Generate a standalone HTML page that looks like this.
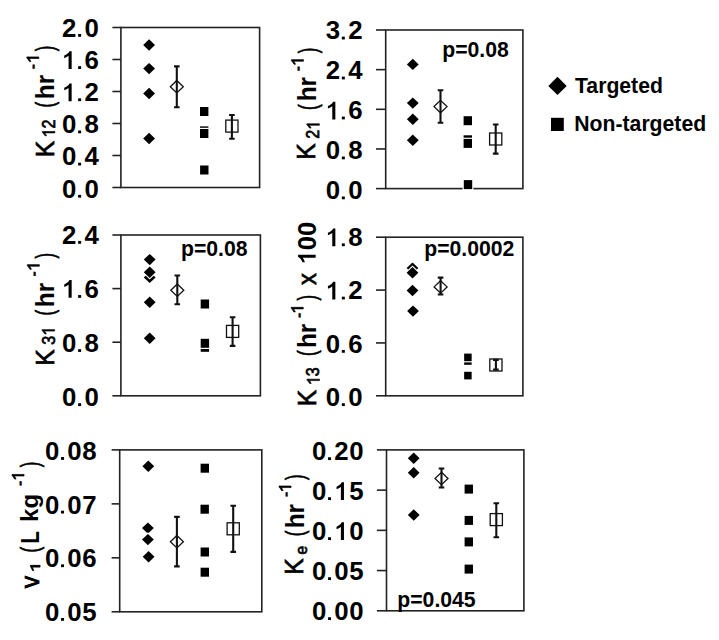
<!DOCTYPE html>
<html><head><meta charset="utf-8"><style>
html,body{margin:0;padding:0;background:#fff;}
svg{display:block;}
text{font-family:"Liberation Sans",sans-serif;fill:#000;}
.b{font-weight:bold;}
</style></head><body>
<svg width="719" height="640" viewBox="0 0 719 640">
<rect width="719" height="640" fill="#fff"/>
<rect x="120.9" y="27.5" width="138.7" height="160" fill="none" stroke="#222" stroke-width="1.6"/>
<line x1="112.4" y1="187.5" x2="120.9" y2="187.5" stroke="#222" stroke-width="1.6"/>
<text x="62.03" y="197.65" font-size="25.8" font-weight="bold">0</text><rect x="78.13" y="194.85" width="3" height="2.8"/><text x="84.45" y="197.65" font-size="25.8" font-weight="bold">0</text>
<line x1="112.4" y1="155.5" x2="120.9" y2="155.5" stroke="#222" stroke-width="1.6"/>
<text x="62.03" y="165.48" font-size="25.8" font-weight="bold">0</text><rect x="78.13" y="162.68" width="3" height="2.8"/><text x="84.45" y="165.48" font-size="25.8" font-weight="bold">4</text>
<line x1="112.4" y1="123.5" x2="120.9" y2="123.5" stroke="#222" stroke-width="1.6"/>
<text x="62.03" y="133.31" font-size="25.8" font-weight="bold">0</text><rect x="78.13" y="130.51" width="3" height="2.8"/><text x="84.45" y="133.31" font-size="25.8" font-weight="bold">8</text>
<line x1="112.4" y1="91.5" x2="120.9" y2="91.5" stroke="#222" stroke-width="1.6"/>
<path transform="translate(62.03,101.14) scale(0.01260,-0.01260)" d="M764 0H519V1040C424 960 314 905 174 860V1060C364 1130 514 1250 584 1409H764Z"/><rect x="78.13" y="98.34" width="3" height="2.8"/><text x="84.45" y="101.14" font-size="25.8" font-weight="bold">2</text>
<line x1="112.4" y1="59.5" x2="120.9" y2="59.5" stroke="#222" stroke-width="1.6"/>
<path transform="translate(62.03,68.97) scale(0.01260,-0.01260)" d="M764 0H519V1040C424 960 314 905 174 860V1060C364 1130 514 1250 584 1409H764Z"/><rect x="78.13" y="66.17" width="3" height="2.8"/><text x="84.45" y="68.97" font-size="25.8" font-weight="bold">6</text>
<line x1="112.4" y1="27.5" x2="120.9" y2="27.5" stroke="#222" stroke-width="1.6"/>
<text x="62.03" y="36.8" font-size="25.8" font-weight="bold">2</text><rect x="78.13" y="34" width="3" height="2.8"/><text x="84.45" y="36.8" font-size="25.8" font-weight="bold">0</text>
<rect x="385.7" y="30" width="137.2" height="158.6" fill="none" stroke="#222" stroke-width="1.6"/>
<line x1="376" y1="188.6" x2="385.7" y2="188.6" stroke="#222" stroke-width="1.6"/>
<text x="325.73" y="199.3" font-size="25.8" font-weight="bold">0</text><rect x="341.83" y="196.5" width="3" height="2.8"/><text x="348.15" y="199.3" font-size="25.8" font-weight="bold">0</text>
<line x1="376" y1="148.95" x2="385.7" y2="148.95" stroke="#222" stroke-width="1.6"/>
<text x="325.73" y="159.34" font-size="25.8" font-weight="bold">0</text><rect x="341.83" y="156.54" width="3" height="2.8"/><text x="348.15" y="159.34" font-size="25.8" font-weight="bold">8</text>
<line x1="376" y1="109.3" x2="385.7" y2="109.3" stroke="#222" stroke-width="1.6"/>
<path transform="translate(325.73,119.38) scale(0.01260,-0.01260)" d="M764 0H519V1040C424 960 314 905 174 860V1060C364 1130 514 1250 584 1409H764Z"/><rect x="341.83" y="116.58" width="3" height="2.8"/><text x="348.15" y="119.38" font-size="25.8" font-weight="bold">6</text>
<line x1="376" y1="69.65" x2="385.7" y2="69.65" stroke="#222" stroke-width="1.6"/>
<text x="325.73" y="79.41" font-size="25.8" font-weight="bold">2</text><rect x="341.83" y="76.61" width="3" height="2.8"/><text x="348.15" y="79.41" font-size="25.8" font-weight="bold">4</text>
<line x1="376" y1="30" x2="385.7" y2="30" stroke="#222" stroke-width="1.6"/>
<text x="325.73" y="39.45" font-size="25.8" font-weight="bold">3</text><rect x="341.83" y="36.65" width="3" height="2.8"/><text x="348.15" y="39.45" font-size="25.8" font-weight="bold">2</text>
<rect x="120.9" y="235" width="139.5" height="160.8" fill="none" stroke="#222" stroke-width="1.6"/>
<line x1="112.4" y1="395.8" x2="120.9" y2="395.8" stroke="#222" stroke-width="1.6"/>
<text x="62.03" y="406.05" font-size="25.8" font-weight="bold">0</text><rect x="78.13" y="403.25" width="3" height="2.8"/><text x="84.45" y="406.05" font-size="25.8" font-weight="bold">0</text>
<line x1="112.4" y1="342.2" x2="120.9" y2="342.2" stroke="#222" stroke-width="1.6"/>
<text x="62.03" y="351.95" font-size="25.8" font-weight="bold">0</text><rect x="78.13" y="349.15" width="3" height="2.8"/><text x="84.45" y="351.95" font-size="25.8" font-weight="bold">8</text>
<line x1="112.4" y1="288.6" x2="120.9" y2="288.6" stroke="#222" stroke-width="1.6"/>
<path transform="translate(62.03,297.85) scale(0.01260,-0.01260)" d="M764 0H519V1040C424 960 314 905 174 860V1060C364 1130 514 1250 584 1409H764Z"/><rect x="78.13" y="295.05" width="3" height="2.8"/><text x="84.45" y="297.85" font-size="25.8" font-weight="bold">6</text>
<line x1="112.4" y1="235" x2="120.9" y2="235" stroke="#222" stroke-width="1.6"/>
<text x="62.03" y="243.75" font-size="25.8" font-weight="bold">2</text><rect x="78.13" y="240.95" width="3" height="2.8"/><text x="84.45" y="243.75" font-size="25.8" font-weight="bold">4</text>
<rect x="385.7" y="237.2" width="137.2" height="158.6" fill="none" stroke="#222" stroke-width="1.6"/>
<line x1="376" y1="395.8" x2="385.7" y2="395.8" stroke="#222" stroke-width="1.6"/>
<text x="325.73" y="406.05" font-size="25.8" font-weight="bold">0</text><rect x="341.83" y="403.25" width="3" height="2.8"/><text x="348.15" y="406.05" font-size="25.8" font-weight="bold">0</text>
<line x1="376" y1="342.93" x2="385.7" y2="342.93" stroke="#222" stroke-width="1.6"/>
<text x="325.73" y="352.77" font-size="25.8" font-weight="bold">0</text><rect x="341.83" y="349.97" width="3" height="2.8"/><text x="348.15" y="352.77" font-size="25.8" font-weight="bold">6</text>
<line x1="376" y1="290.07" x2="385.7" y2="290.07" stroke="#222" stroke-width="1.6"/>
<path transform="translate(325.73,299.48) scale(0.01260,-0.01260)" d="M764 0H519V1040C424 960 314 905 174 860V1060C364 1130 514 1250 584 1409H764Z"/><rect x="341.83" y="296.68" width="3" height="2.8"/><text x="348.15" y="299.48" font-size="25.8" font-weight="bold">2</text>
<line x1="376" y1="237.2" x2="385.7" y2="237.2" stroke="#222" stroke-width="1.6"/>
<path transform="translate(325.73,246.2) scale(0.01260,-0.01260)" d="M764 0H519V1040C424 960 314 905 174 860V1060C364 1130 514 1250 584 1409H764Z"/><rect x="341.83" y="243.4" width="3" height="2.8"/><text x="348.15" y="246.2" font-size="25.8" font-weight="bold">8</text>
<rect x="119.7" y="449.9" width="142.1" height="161.9" fill="none" stroke="#222" stroke-width="1.6"/>
<line x1="111.6" y1="611.8" x2="119.7" y2="611.8" stroke="#222" stroke-width="1.6"/>
<text x="44.94" y="620.8" font-size="25.8" font-weight="bold">0</text><rect x="61.03" y="618" width="3" height="2.8"/><text x="67.35" y="620.8" font-size="25.8" font-weight="bold">0</text><text x="82.15" y="620.8" font-size="25.8" font-weight="bold">5</text>
<line x1="111.6" y1="557.83" x2="119.7" y2="557.83" stroke="#222" stroke-width="1.6"/>
<text x="44.94" y="567.15" font-size="25.8" font-weight="bold">0</text><rect x="61.03" y="564.35" width="3" height="2.8"/><text x="67.35" y="567.15" font-size="25.8" font-weight="bold">0</text><text x="82.15" y="567.15" font-size="25.8" font-weight="bold">6</text>
<line x1="111.6" y1="503.87" x2="119.7" y2="503.87" stroke="#222" stroke-width="1.6"/>
<text x="44.94" y="513.5" font-size="25.8" font-weight="bold">0</text><rect x="61.03" y="510.7" width="3" height="2.8"/><text x="67.35" y="513.5" font-size="25.8" font-weight="bold">0</text><text x="82.15" y="513.5" font-size="25.8" font-weight="bold">7</text>
<line x1="111.6" y1="449.9" x2="119.7" y2="449.9" stroke="#222" stroke-width="1.6"/>
<text x="44.94" y="459.85" font-size="25.8" font-weight="bold">0</text><rect x="61.03" y="457.05" width="3" height="2.8"/><text x="67.35" y="459.85" font-size="25.8" font-weight="bold">0</text><text x="82.15" y="459.85" font-size="25.8" font-weight="bold">8</text>
<rect x="386.5" y="449.9" width="137.4" height="160.9" fill="none" stroke="#222" stroke-width="1.6"/>
<line x1="376.9" y1="610.8" x2="386.5" y2="610.8" stroke="#222" stroke-width="1.6"/>
<text x="311.94" y="620.05" font-size="25.8" font-weight="bold">0</text><rect x="328.03" y="617.25" width="3" height="2.8"/><text x="334.35" y="620.05" font-size="25.8" font-weight="bold">0</text><text x="349.15" y="620.05" font-size="25.8" font-weight="bold">0</text>
<line x1="376.9" y1="570.57" x2="386.5" y2="570.57" stroke="#222" stroke-width="1.6"/>
<text x="311.94" y="580.05" font-size="25.8" font-weight="bold">0</text><rect x="328.03" y="577.25" width="3" height="2.8"/><text x="334.35" y="580.05" font-size="25.8" font-weight="bold">0</text><text x="349.15" y="580.05" font-size="25.8" font-weight="bold">5</text>
<line x1="376.9" y1="530.35" x2="386.5" y2="530.35" stroke="#222" stroke-width="1.6"/>
<text x="311.94" y="540.05" font-size="25.8" font-weight="bold">0</text><rect x="328.03" y="537.25" width="3" height="2.8"/><path transform="translate(334.35,540.05) scale(0.01260,-0.01260)" d="M764 0H519V1040C424 960 314 905 174 860V1060C364 1130 514 1250 584 1409H764Z"/><text x="349.15" y="540.05" font-size="25.8" font-weight="bold">0</text>
<line x1="376.9" y1="490.12" x2="386.5" y2="490.12" stroke="#222" stroke-width="1.6"/>
<text x="311.94" y="500.05" font-size="25.8" font-weight="bold">0</text><rect x="328.03" y="497.25" width="3" height="2.8"/><path transform="translate(334.35,500.05) scale(0.01260,-0.01260)" d="M764 0H519V1040C424 960 314 905 174 860V1060C364 1130 514 1250 584 1409H764Z"/><text x="349.15" y="500.05" font-size="25.8" font-weight="bold">5</text>
<line x1="376.9" y1="449.9" x2="386.5" y2="449.9" stroke="#222" stroke-width="1.6"/>
<text x="311.94" y="460.05" font-size="25.8" font-weight="bold">0</text><rect x="328.03" y="457.25" width="3" height="2.8"/><text x="334.35" y="460.05" font-size="25.8" font-weight="bold">2</text><text x="349.15" y="460.05" font-size="25.8" font-weight="bold">0</text>
<path d="M149.1 39.3L155 45L149.1 50.7L143.2 45Z" fill="#000" stroke="#fff" stroke-width="2.4" paint-order="stroke"/>
<path d="M149.1 62.9L155 68.6L149.1 74.3L143.2 68.6Z" fill="#000" stroke="#fff" stroke-width="2.4" paint-order="stroke"/>
<path d="M149.1 87.8L155 93.5L149.1 99.2L143.2 93.5Z" fill="#000" stroke="#fff" stroke-width="2.4" paint-order="stroke"/>
<path d="M149.1 132.8L155 138.5L149.1 144.2L143.2 138.5Z" fill="#000" stroke="#fff" stroke-width="2.4" paint-order="stroke"/>
<rect x="200" y="107" width="8.4" height="9" fill="#000" stroke="#fff" stroke-width="2.4" paint-order="stroke"/>
<rect x="200" y="126.4" width="8.4" height="9" fill="#000" stroke="#fff" stroke-width="2.4" paint-order="stroke"/>
<rect x="200" y="129" width="8.4" height="9" fill="#000" stroke="#fff" stroke-width="2.4" paint-order="stroke"/>
<rect x="200.1" y="165.5" width="8.4" height="9" fill="#000" stroke="#fff" stroke-width="2.4" paint-order="stroke"/>
<path d="M176.8 80.5L183.3 86.7L176.8 92.9L170.3 86.7Z" fill="#fff" stroke="#111" stroke-width="1.3"/>
<path d="M176.8 66.4V107.2M174 66.4H179.6M174 107.2H179.6" stroke="#111" stroke-width="2.1" fill="none"/>
<rect x="225.8" y="120.1" width="12.2" height="12" fill="#fff" stroke="#111" stroke-width="1.3"/>
<path d="M231.9 115V138.8M229.1 115H234.7M229.1 138.8H234.7" stroke="#111" stroke-width="2.1" fill="none"/>
<path d="M412.8 58.7L418.7 64.4L412.8 70.1L406.9 64.4Z" fill="#000" stroke="#fff" stroke-width="2.4" paint-order="stroke"/>
<path d="M412.8 97.4L418.7 103.1L412.8 108.8L406.9 103.1Z" fill="#000" stroke="#fff" stroke-width="2.4" paint-order="stroke"/>
<path d="M412.8 113.5L418.7 119.2L412.8 124.9L406.9 119.2Z" fill="#000" stroke="#fff" stroke-width="2.4" paint-order="stroke"/>
<path d="M412.8 134.6L418.7 140.3L412.8 146L406.9 140.3Z" fill="#000" stroke="#fff" stroke-width="2.4" paint-order="stroke"/>
<rect x="463.6" y="116.2" width="8.4" height="9" fill="#000" stroke="#fff" stroke-width="2.4" paint-order="stroke"/>
<rect x="463.6" y="135.3" width="8.4" height="9" fill="#000" stroke="#fff" stroke-width="2.4" paint-order="stroke"/>
<rect x="463.6" y="138.9" width="8.4" height="9" fill="#000" stroke="#fff" stroke-width="2.4" paint-order="stroke"/>
<rect x="463.8" y="180.1" width="8.4" height="9" fill="#000" stroke="#fff" stroke-width="2.4" paint-order="stroke"/>
<path d="M440.5 100.4L447 106.6L440.5 112.8L434 106.6Z" fill="#fff" stroke="#111" stroke-width="1.3"/>
<path d="M440.5 90.2V122.7M437.7 90.2H443.3M437.7 122.7H443.3" stroke="#111" stroke-width="2.1" fill="none"/>
<rect x="489.6" y="133" width="12.2" height="12" fill="#fff" stroke="#111" stroke-width="1.3"/>
<path d="M495.7 124.5V153.6M492.9 124.5H498.5M492.9 153.6H498.5" stroke="#111" stroke-width="2.1" fill="none"/>
<path d="M149.7 253.9L155.6 259.6L149.7 265.3L143.8 259.6Z" fill="#000" stroke="#fff" stroke-width="2.4" paint-order="stroke"/>
<path d="M149.7 271.7L155.6 277.4L149.7 283.1L143.8 277.4Z" fill="#000" stroke="#fff" stroke-width="2.4" paint-order="stroke"/>
<path d="M149.7 266.5L155.6 272.2L149.7 277.9L143.8 272.2Z" fill="#000" stroke="#fff" stroke-width="2.4" paint-order="stroke"/>
<path d="M149.7 296.6L155.6 302.3L149.7 308L143.8 302.3Z" fill="#000" stroke="#fff" stroke-width="2.4" paint-order="stroke"/>
<path d="M149.7 332.6L155.6 338.3L149.7 344L143.8 338.3Z" fill="#000" stroke="#fff" stroke-width="2.4" paint-order="stroke"/>
<rect x="200.7" y="299.5" width="8.4" height="9" fill="#000" stroke="#fff" stroke-width="2.4" paint-order="stroke"/>
<rect x="200.7" y="342.8" width="8.4" height="9" fill="#000" stroke="#fff" stroke-width="2.4" paint-order="stroke"/>
<rect x="200.7" y="338.8" width="8.4" height="9" fill="#000" stroke="#fff" stroke-width="2.4" paint-order="stroke"/>
<path d="M177.3 284L183.8 290.2L177.3 296.4L170.8 290.2Z" fill="#fff" stroke="#111" stroke-width="1.3"/>
<path d="M177.3 275.5V304.2M174.5 275.5H180.1M174.5 304.2H180.1" stroke="#111" stroke-width="2.1" fill="none"/>
<rect x="226.5" y="325.4" width="12.2" height="12" fill="#fff" stroke="#111" stroke-width="1.3"/>
<path d="M232.6 317.25V345.9M229.8 317.25H235.4M229.8 345.9H235.4" stroke="#111" stroke-width="2.1" fill="none"/>
<path d="M412.5 262.4L418.4 268.1L412.5 273.8L406.6 268.1Z" fill="#000" stroke="#fff" stroke-width="2.4" paint-order="stroke"/>
<path d="M412.5 267.1L418.4 272.8L412.5 278.5L406.6 272.8Z" fill="#000" stroke="#fff" stroke-width="2.4" paint-order="stroke"/>
<path d="M412.5 284.8L418.4 290.5L412.5 296.2L406.6 290.5Z" fill="#000" stroke="#fff" stroke-width="2.4" paint-order="stroke"/>
<path d="M413 305.4L418.9 311.1L413 316.8L407.1 311.1Z" fill="#000" stroke="#fff" stroke-width="2.4" paint-order="stroke"/>
<rect x="464.15" y="357.2" width="7.5" height="7.6" fill="#000" stroke="#fff" stroke-width="2.4" paint-order="stroke"/>
<rect x="464.15" y="353.6" width="7.5" height="7.6" fill="#000" stroke="#fff" stroke-width="2.4" paint-order="stroke"/>
<rect x="464.15" y="371.8" width="7.5" height="7.6" fill="#000" stroke="#fff" stroke-width="2.4" paint-order="stroke"/>
<path d="M440.6 280.7L447.1 286.9L440.6 293.1L434.1 286.9Z" fill="#fff" stroke="#111" stroke-width="1.3"/>
<path d="M440.6 277.6V294.5M437.8 277.6H443.4M437.8 294.5H443.4" stroke="#111" stroke-width="2.1" fill="none"/>
<rect x="489.8" y="359" width="12.2" height="12" fill="#fff" stroke="#111" stroke-width="1.3"/>
<path d="M495.9 359.9V369.6M493.1 359.9H498.7M493.1 369.6H498.7" stroke="#111" stroke-width="2.1" fill="none"/>
<path d="M148.3 460.5L154.2 466.2L148.3 471.9L142.4 466.2Z" fill="#000" stroke="#fff" stroke-width="2.4" paint-order="stroke"/>
<path d="M147.9 522.4L153.8 528.1L147.9 533.8L142 528.1Z" fill="#000" stroke="#fff" stroke-width="2.4" paint-order="stroke"/>
<path d="M147.9 533.9L153.8 539.6L147.9 545.3L142 539.6Z" fill="#000" stroke="#fff" stroke-width="2.4" paint-order="stroke"/>
<path d="M148.6 551L154.5 556.7L148.6 562.4L142.7 556.7Z" fill="#000" stroke="#fff" stroke-width="2.4" paint-order="stroke"/>
<rect x="200.6" y="463.7" width="8.4" height="9" fill="#000" stroke="#fff" stroke-width="2.4" paint-order="stroke"/>
<rect x="200.5" y="504.7" width="8.4" height="9" fill="#000" stroke="#fff" stroke-width="2.4" paint-order="stroke"/>
<rect x="200.6" y="547.5" width="8.4" height="9" fill="#000" stroke="#fff" stroke-width="2.4" paint-order="stroke"/>
<rect x="200.6" y="567.7" width="8.4" height="9" fill="#000" stroke="#fff" stroke-width="2.4" paint-order="stroke"/>
<path d="M176.9 535.5L183.4 541.7L176.9 547.9L170.4 541.7Z" fill="#fff" stroke="#111" stroke-width="1.3"/>
<path d="M176.9 516.9V566.4M174.1 516.9H179.7M174.1 566.4H179.7" stroke="#111" stroke-width="2.1" fill="none"/>
<rect x="227.1" y="522.8" width="12.2" height="12" fill="#fff" stroke="#111" stroke-width="1.3"/>
<path d="M233.2 505.7V551.9M230.4 505.7H236M230.4 551.9H236" stroke="#111" stroke-width="2.1" fill="none"/>
<path d="M413.7 452.6L419.6 458.3L413.7 464L407.8 458.3Z" fill="#000" stroke="#fff" stroke-width="2.4" paint-order="stroke"/>
<path d="M413.7 467L419.6 472.7L413.7 478.4L407.8 472.7Z" fill="#000" stroke="#fff" stroke-width="2.4" paint-order="stroke"/>
<path d="M413.75 509.3L419.65 515L413.75 520.7L407.85 515Z" fill="#000" stroke="#fff" stroke-width="2.4" paint-order="stroke"/>
<rect x="464.6" y="484.6" width="8.4" height="9" fill="#000" stroke="#fff" stroke-width="2.4" paint-order="stroke"/>
<rect x="464.6" y="515.9" width="8.4" height="9" fill="#000" stroke="#fff" stroke-width="2.4" paint-order="stroke"/>
<rect x="464.6" y="537.4" width="8.4" height="9" fill="#000" stroke="#fff" stroke-width="2.4" paint-order="stroke"/>
<rect x="464.6" y="564.6" width="8.4" height="9" fill="#000" stroke="#fff" stroke-width="2.4" paint-order="stroke"/>
<path d="M441.5 472.3L448 478.5L441.5 484.7L435 478.5Z" fill="#fff" stroke="#111" stroke-width="1.3"/>
<path d="M441.5 468.5V487.5M438.7 468.5H444.3M438.7 487.5H444.3" stroke="#111" stroke-width="2.1" fill="none"/>
<rect x="490.2" y="513.6" width="12.2" height="12" fill="#fff" stroke="#111" stroke-width="1.3"/>
<path d="M496.3 503.2V537.3M493.5 503.2H499.1M493.5 537.3H499.1" stroke="#111" stroke-width="2.1" fill="none"/>
<text x="442.2" y="57" font-size="21.2" font-weight="bold">p=0.08</text>
<text x="181" y="255.7" font-size="21.2" font-weight="bold">p=0.08</text>
<text x="424.2" y="255.5" font-size="21.2" font-weight="bold">p=0.0002</text>
<text x="397.3" y="606.5" font-size="21.2" font-weight="bold">p=0.045</text>
<path d="M557.5 76.75L566.7 85.9L557.5 95.05L548.3 85.9Z" fill="#000"/>
<rect x="551" y="117.8" width="12.8" height="13.2" fill="#000"/>
<text x="575" y="93.4" font-size="21.2" font-weight="bold">Targeted</text>
<text x="574.3" y="131.3" font-size="21.2" font-weight="bold">Non-targeted</text>
<g transform="translate(53.65,157.32) rotate(-90) scale(0.930,1)"><text x="0" y="0" font-size="26.5" font-weight="normal" stroke="#000" stroke-width="0.7">K</text></g>
<g transform="translate(54.85,137.51) rotate(-90) scale(0.890,1)"><path transform="translate(0,0) scale(0.00889,-0.00889)" d="M763 0H583V1147C520 1087 420 1022 223 930V1104C400 1190 560 1320 644 1409H763Z" stroke="#000" stroke-width="78.77"/><text x="10.12" y="0" font-size="18.2" font-weight="normal" stroke="#000" stroke-width="0.7">2</text></g>
<g transform="translate(53.67,107.50) rotate(-90) scale(0.650,1)"><text x="0" y="0" font-size="26" font-weight="normal" stroke="#000" stroke-width="0.7">(</text></g>
<g transform="translate(53.75,99.15) rotate(-90) scale(0.967,1)"><text x="0" y="0" font-size="25.2" font-weight="bold">hr</text></g>
<g transform="translate(38.98,69.32) rotate(-90) scale(0.850,1)"><text x="0" y="0" font-size="17.8" font-weight="normal" stroke="#000" stroke-width="0.7">-</text></g>
<g transform="translate(38.85,63.46) rotate(-90) scale(1.000,1)"><path transform="translate(0,0) scale(0.00854,-0.00854)" d="M763 0H583V1147C520 1087 420 1022 223 930V1104C400 1190 560 1320 644 1409H763Z" stroke="#000" stroke-width="81.92"/></g>
<g transform="translate(54.27,51.25) rotate(-90) scale(0.650,1)"><text x="0" y="0" font-size="26" font-weight="normal" stroke="#000" stroke-width="0.7">)</text></g>
<g transform="translate(315.45,159.67) rotate(-90) scale(0.930,1)"><text x="0" y="0" font-size="26.5" font-weight="normal" stroke="#000" stroke-width="0.7">K</text></g>
<g transform="translate(319.35,138.86) rotate(-90) scale(0.890,1)"><text x="0" y="0" font-size="18.2" font-weight="normal" stroke="#000" stroke-width="0.7">2</text><path transform="translate(10.12,0) scale(0.00889,-0.00889)" d="M763 0H583V1147C520 1087 420 1022 223 930V1104C400 1190 560 1320 644 1409H763Z" stroke="#000" stroke-width="78.77"/></g>
<g transform="translate(316.77,109.90) rotate(-90) scale(0.650,1)"><text x="0" y="0" font-size="26" font-weight="normal" stroke="#000" stroke-width="0.7">(</text></g>
<g transform="translate(315.75,101.35) rotate(-90) scale(0.967,1)"><text x="0" y="0" font-size="25.2" font-weight="bold">hr</text></g>
<g transform="translate(304.48,71.32) rotate(-90) scale(0.850,1)"><text x="0" y="0" font-size="17.8" font-weight="normal" stroke="#000" stroke-width="0.7">-</text></g>
<g transform="translate(303.45,66.16) rotate(-90) scale(1.000,1)"><path transform="translate(0,0) scale(0.00854,-0.00854)" d="M763 0H583V1147C520 1087 420 1022 223 930V1104C400 1190 560 1320 644 1409H763Z" stroke="#000" stroke-width="81.92"/></g>
<g transform="translate(316.77,53.25) rotate(-90) scale(0.650,1)"><text x="0" y="0" font-size="26" font-weight="normal" stroke="#000" stroke-width="0.7">)</text></g>
<g transform="translate(53.65,365.77) rotate(-90) scale(0.930,1)"><text x="0" y="0" font-size="26.5" font-weight="normal" stroke="#000" stroke-width="0.7">K</text></g>
<g transform="translate(54.57,344.67) rotate(-90) scale(0.890,1)"><text x="0" y="0" font-size="18.2" font-weight="normal" stroke="#000" stroke-width="0.7">3</text><path transform="translate(10.12,0) scale(0.00889,-0.00889)" d="M763 0H583V1147C520 1087 420 1022 223 930V1104C400 1190 560 1320 644 1409H763Z" stroke="#000" stroke-width="78.77"/></g>
<g transform="translate(53.77,315.50) rotate(-90) scale(0.650,1)"><text x="0" y="0" font-size="26" font-weight="normal" stroke="#000" stroke-width="0.7">(</text></g>
<g transform="translate(53.75,307.15) rotate(-90) scale(0.967,1)"><text x="0" y="0" font-size="25.2" font-weight="bold">hr</text></g>
<g transform="translate(39.58,276.52) rotate(-90) scale(0.850,1)"><text x="0" y="0" font-size="17.8" font-weight="normal" stroke="#000" stroke-width="0.7">-</text></g>
<g transform="translate(39.35,271.16) rotate(-90) scale(1.000,1)"><path transform="translate(0,0) scale(0.00854,-0.00854)" d="M763 0H583V1147C520 1087 420 1022 223 930V1104C400 1190 560 1320 644 1409H763Z" stroke="#000" stroke-width="81.92"/></g>
<g transform="translate(54.27,258.45) rotate(-90) scale(0.650,1)"><text x="0" y="0" font-size="26" font-weight="normal" stroke="#000" stroke-width="0.7">)</text></g>
<g transform="translate(315.85,406.27) rotate(-90) scale(0.930,1)"><text x="0" y="0" font-size="26.5" font-weight="normal" stroke="#000" stroke-width="0.7">K</text></g>
<g transform="translate(319.47,385.21) rotate(-90) scale(0.890,1)"><path transform="translate(0,0) scale(0.00889,-0.00889)" d="M763 0H583V1147C520 1087 420 1022 223 930V1104C400 1190 560 1320 644 1409H763Z" stroke="#000" stroke-width="78.77"/><text x="10.12" y="0" font-size="18.2" font-weight="normal" stroke="#000" stroke-width="0.7">3</text></g>
<g transform="translate(315.97,356.00) rotate(-90) scale(0.650,1)"><text x="0" y="0" font-size="26" font-weight="normal" stroke="#000" stroke-width="0.7">(</text></g>
<g transform="translate(315.75,348.10) rotate(-90) scale(0.967,1)"><text x="0" y="0" font-size="25.2" font-weight="bold">hr</text></g>
<g transform="translate(304.58,318.12) rotate(-90) scale(0.850,1)"><text x="0" y="0" font-size="17.8" font-weight="normal" stroke="#000" stroke-width="0.7">-</text></g>
<g transform="translate(303.25,313.86) rotate(-90) scale(1.000,1)"><path transform="translate(0,0) scale(0.00854,-0.00854)" d="M763 0H583V1147C520 1087 420 1022 223 930V1104C400 1190 560 1320 644 1409H763Z" stroke="#000" stroke-width="81.92"/></g>
<g transform="translate(315.97,300.55) rotate(-90) scale(0.650,1)"><text x="0" y="0" font-size="26" font-weight="normal" stroke="#000" stroke-width="0.7">)</text></g>
<g transform="translate(315.90,284.92) rotate(-90) scale(0.915,1)"><text x="0" y="0" font-size="25.8" font-weight="normal" stroke="#000" stroke-width="0.7">x</text></g>
<g transform="translate(315.65,264.32) rotate(-90) scale(1.000,1)"><path transform="translate(0,0) scale(0.01245,-0.01245)" d="M764 0H519V1040C424 960 314 905 174 860V1060C364 1130 514 1250 584 1409H764Z"/><text x="14.18" y="0" font-size="25.5" font-weight="bold">00</text></g>
<g transform="translate(38.95,588.14) rotate(-90) scale(0.960,1)"><text x="0" y="0" font-size="26" font-weight="normal" stroke="#000" stroke-width="0.7">v</text></g>
<g transform="translate(40.05,572.68) rotate(-90) scale(1.400,1)"><path transform="translate(0,0) scale(0.00684,-0.00684)" d="M763 0H583V1147C520 1087 420 1022 223 930V1104C400 1190 560 1320 644 1409H763Z" stroke="#000" stroke-width="102.4"/></g>
<g transform="translate(38.77,552.50) rotate(-90) scale(0.650,1)"><text x="0" y="0" font-size="26" font-weight="normal" stroke="#000" stroke-width="0.7">(</text></g>
<g transform="translate(38.95,543.51) rotate(-90) scale(0.800,1)"><text x="0" y="0" font-size="25.5" font-weight="bold">L</text></g>
<g transform="translate(38.31,521.93) rotate(-90) scale(1.000,1)"><text x="0" y="0" font-size="24" font-weight="bold">kg</text></g>
<g transform="translate(25.58,485.92) rotate(-90) scale(0.850,1)"><text x="0" y="0" font-size="17.8" font-weight="normal" stroke="#000" stroke-width="0.7">-</text></g>
<g transform="translate(24.05,480.96) rotate(-90) scale(1.000,1)"><path transform="translate(0,0) scale(0.00854,-0.00854)" d="M763 0H583V1147C520 1087 420 1022 223 930V1104C400 1190 560 1320 644 1409H763Z" stroke="#000" stroke-width="81.92"/></g>
<g transform="translate(39.27,467.25) rotate(-90) scale(0.650,1)"><text x="0" y="0" font-size="26" font-weight="normal" stroke="#000" stroke-width="0.7">)</text></g>
<g transform="translate(303.25,574.67) rotate(-90) scale(0.930,1)"><text x="0" y="0" font-size="26.5" font-weight="normal" stroke="#000" stroke-width="0.7">K</text></g>
<g transform="translate(306.78,554.51) rotate(-90) scale(0.920,1)"><text x="0" y="0" font-size="17" font-weight="normal" stroke="#000" stroke-width="0.7">e</text></g>
<g transform="translate(303.97,536.20) rotate(-90) scale(0.650,1)"><text x="0" y="0" font-size="26" font-weight="normal" stroke="#000" stroke-width="0.7">(</text></g>
<g transform="translate(303.55,528.35) rotate(-90) scale(0.967,1)"><text x="0" y="0" font-size="25.2" font-weight="bold">hr</text></g>
<g transform="translate(291.78,497.02) rotate(-90) scale(0.850,1)"><text x="0" y="0" font-size="17.8" font-weight="normal" stroke="#000" stroke-width="0.7">-</text></g>
<g transform="translate(291.05,492.56) rotate(-90) scale(1.000,1)"><path transform="translate(0,0) scale(0.00854,-0.00854)" d="M763 0H583V1147C520 1087 420 1022 223 930V1104C400 1190 560 1320 644 1409H763Z" stroke="#000" stroke-width="81.92"/></g>
<g transform="translate(303.97,480.05) rotate(-90) scale(0.650,1)"><text x="0" y="0" font-size="26" font-weight="normal" stroke="#000" stroke-width="0.7">)</text></g>
</svg>
</body></html>
